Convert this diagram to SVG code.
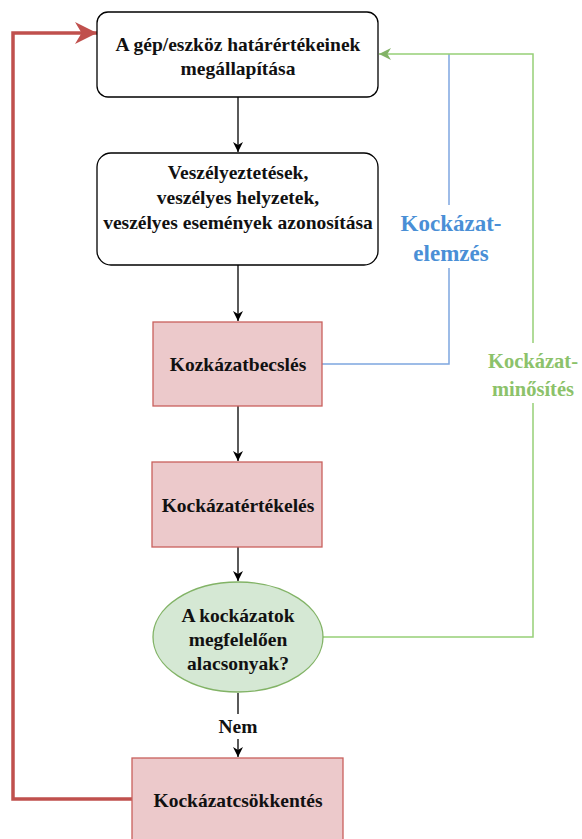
<svg xmlns="http://www.w3.org/2000/svg" width="582" height="839" viewBox="0 0 582 839">
<style>
.t{font-family:"Liberation Serif","Tinos","DejaVu Serif",serif;font-weight:bold;font-size:19.5px;fill:#111;text-anchor:middle;dominant-baseline:central}
.white{fill:#fff;stroke:#000;stroke-width:1.3}
.pink{fill:#ecc9cb;stroke:#c9605c;stroke-width:1.3}
.k{fill:none;stroke:#000;stroke-width:1.3}
.lb{font-family:"Liberation Serif","Tinos","DejaVu Serif",serif;font-weight:bold;text-anchor:middle;dominant-baseline:central}
</style>
<defs>
<marker id="ab" viewBox="0 0 10 10" refX="10" refY="5" markerWidth="10" markerHeight="10" markerUnits="userSpaceOnUse" orient="auto"><path d="M0,0 L10,5 L0,10 L3,5 Z" fill="#000"/></marker>
<marker id="ag" viewBox="0 0 10 10" refX="10" refY="5" markerWidth="12" markerHeight="12" markerUnits="userSpaceOnUse" orient="auto"><path d="M0,0 L10,5 L0,10 L3,5 Z" fill="#82b366"/></marker>
<marker id="ar" viewBox="0 0 10 10" refX="10" refY="5" markerWidth="22" markerHeight="22" markerUnits="userSpaceOnUse" orient="auto"><path d="M0,0 L10,5 L0,10 L3,5 Z" fill="#c0504d"/></marker>
</defs>
<g id="connectors">
<line class="k" x1="238" y1="97" x2="238" y2="152" marker-end="url(#ab)"/>
<line class="k" x1="238" y1="265" x2="238" y2="321" marker-end="url(#ab)"/>
<line class="k" x1="238" y1="406" x2="238" y2="461" marker-end="url(#ab)"/>
<line class="k" x1="238" y1="547" x2="238" y2="581" marker-end="url(#ab)"/>
<line class="k" x1="238" y1="693" x2="238" y2="714"/>
<line class="k" x1="238" y1="739" x2="238" y2="757" marker-end="url(#ab)"/>
<text class="t" x="238" y="726">Nem</text>
<polyline points="322,364 449,364 449,268" fill="none" stroke="#7ea6e0" stroke-width="1.5"/>
<polyline points="449,205 449,54" fill="none" stroke="#7ea6e0" stroke-width="1.5"/>
<polyline points="322,637 533,637 533,403" fill="none" stroke="#97d077" stroke-width="1.5"/>
<polyline points="533,343 533,54 379,54" fill="none" stroke="#97d077" stroke-width="1.5" marker-end="url(#ag)"/>
<polyline points="132,799 13,799 13,33 97,33" fill="none" stroke="#c0504d" stroke-width="3.5" marker-end="url(#ar)"/>
<text class="lb" x="451" y="223" font-size="23" fill="#4a8fd6">Kockázat-</text>
<text class="lb" x="451" y="253" font-size="23" fill="#4a8fd6">elemzés</text>
<text class="lb" x="533" y="361" font-size="20.5" fill="#8cc26a">Kockázat-</text>
<text class="lb" x="533" y="389" font-size="20.5" fill="#8cc26a">minősítés</text>
</g>
<g id="n1">
<rect class="white" x="97" y="12" width="281" height="85" rx="11"/>
<text class="t" x="238" y="44">A gép/eszköz határértékeinek</text>
<text class="t" x="238" y="68">megállapítása</text>
</g>
<g id="n2">
<rect class="white" x="97" y="153" width="281" height="112" rx="14"/>
<text class="t" x="238" y="172">Veszélyeztetések,</text>
<text class="t" x="238" y="197">veszélyes helyzetek,</text>
<text class="t" x="238" y="222">veszélyes események azonosítása</text>
</g>
<g id="n3">
<rect class="pink" x="153" y="322" width="169" height="84"/>
<text class="t" x="238" y="364">Kozkázatbecslés</text>
</g>
<g id="n4">
<rect class="pink" x="152" y="462" width="170" height="85"/>
<text class="t" x="238" y="505">Kockázatértékelés</text>
</g>
<g id="n5">
<ellipse cx="238" cy="637" rx="85" ry="55" fill="#d5e8d4" stroke="#82b366" stroke-width="1.3"/>
<text class="t" x="238" y="615">A kockázatok</text>
<text class="t" x="238" y="639">megfelelően</text>
<text class="t" x="238" y="663">alacsonyak?</text>
</g>
<g id="n6">
<rect class="pink" x="132" y="758" width="211" height="82"/>
<text class="t" x="238" y="800">Kockázatcsökkentés</text>
</g>
</svg>
